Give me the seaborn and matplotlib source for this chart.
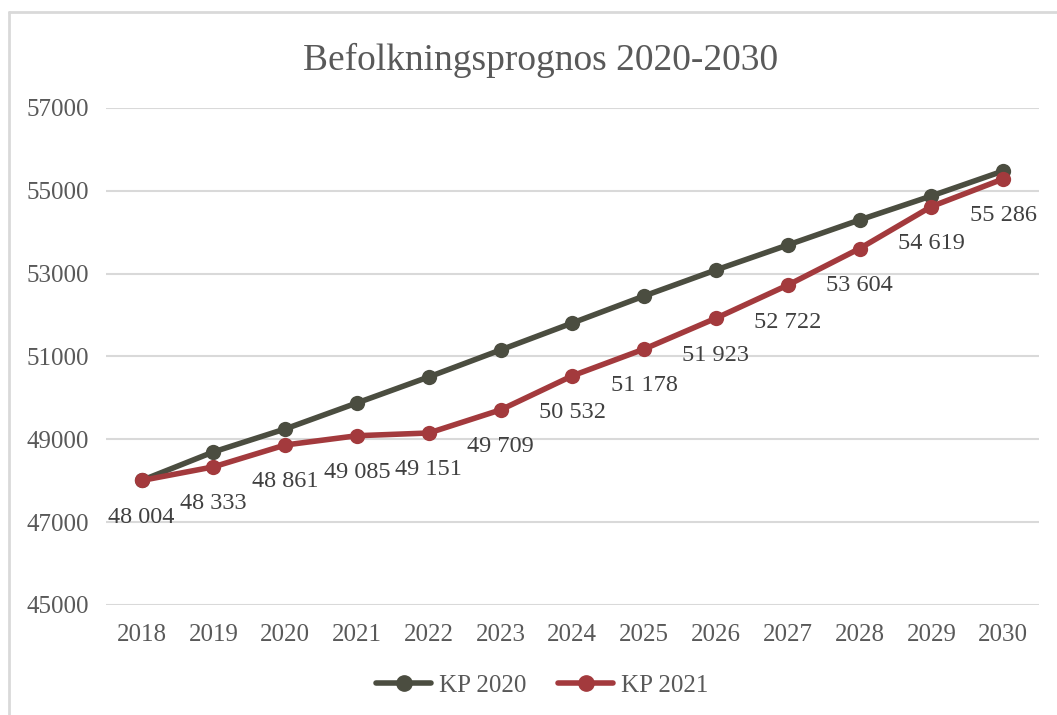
import matplotlib
matplotlib.use('Agg')
import matplotlib.pyplot as plt
import seaborn as sns
import pandas as pd
from matplotlib.lines import Line2D

years = [2018, 2019, 2020, 2021, 2022, 2023, 2024, 2025, 2026, 2027, 2028, 2029, 2030]
kp2020 = [48004, 48694, 49249, 49877, 50505, 51156, 51808, 52460, 53088, 53691, 54295, 54875, 55478]
kp2021 = [48004, 48333, 48861, 49085, 49151, 49709, 50532, 51178, 51923, 52722, 53604, 54619, 55286]
yticks = [45000, 47000, 49000, 51000, 53000, 55000, 57000]

sns.set_theme(style='white')
plt.rcParams['font.family'] = ['Liberation Serif', 'DejaVu Serif']
txt = '#595959'
c20 = '#4b4d40'
c21 = '#a33a3d'

df = pd.DataFrame({'year': [str(y) for y in years] * 2,
                   'value': kp2020 + kp2021,
                   'serie': ['KP 2020'] * len(years) + ['KP 2021'] * len(years)})

fig = plt.figure(figsize=(10.57, 7.15), dpi=100)
ax = fig.add_axes([0.100, 0.154, 0.883, 0.695])

sns.lineplot(data=df, x='year', y='value', hue='serie', palette=[c20, c21],
             marker='o', markersize=11, markeredgewidth=0, linewidth=4,
             sort=False, legend=False, ax=ax)

for i, v in enumerate(kp2021):
    ax.annotate(f'{v:,}'.replace(',', ' '), (i, v), xytext=(0, -19), textcoords='offset points',
                ha='center', va='top', fontsize=17.5, color='#404040')

ax.set_xlim(-0.5, len(years) - 0.5)
ax.set_ylim(45000, 57000)
ax.set_yticks(yticks)
ax.set_yticklabels([str(t) for t in yticks])
ax.yaxis.grid(True, color='#d9d9d9', linewidth=1.5)
ax.xaxis.grid(False)
for s in ax.spines.values():
    s.set_visible(False)
ax.tick_params(axis='both', labelsize=18, colors=txt, length=0)
ax.tick_params(axis='y', pad=12)
ax.tick_params(axis='x', pad=14)
ax.set_xlabel('')
ax.set_ylabel('')

fig.text(0.511, 0.915, 'Befolkningsprognos 2020-2030', ha='center', va='center',
         fontsize=27, color=txt)

handles = [Line2D([], [], color=c20, marker='o', markersize=11, linewidth=4),
           Line2D([], [], color=c21, marker='o', markersize=11, linewidth=4)]
fig.legend(handles, ['KP 2020', 'KP 2021'], loc='center', bbox_to_anchor=(0.513, 0.041),
           ncol=2, frameon=False, fontsize=18, labelcolor=txt, handlelength=2.2,
           handletextpad=0.3, columnspacing=1.3)

# light grey frame around the chart area
fig.add_artist(Line2D([8.5 / 1057, 8.5 / 1057], [0, 1 - 11.5 / 715], transform=fig.transFigure,
                      color='#d9d9d9', linewidth=2))
fig.add_artist(Line2D([8.5 / 1057, 1], [1 - 11.5 / 715, 1 - 11.5 / 715], transform=fig.transFigure,
                      color='#d9d9d9', linewidth=2))

fig.savefig('out.png', dpi=100)
